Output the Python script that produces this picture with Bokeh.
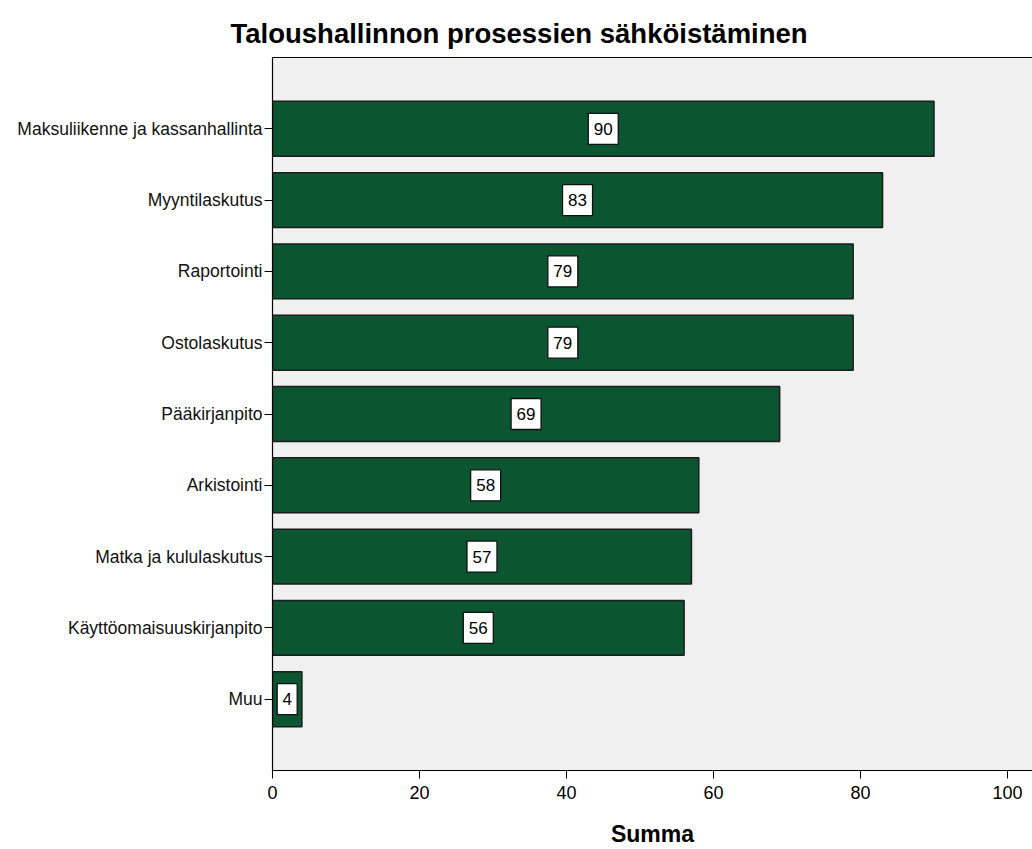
from bokeh.plotting import figure
from bokeh.models import ColumnDataSource, LinearAxis, Range1d, FixedTicker, Title
from bokeh.core.properties import value
from bokeh.embed import file_html
from bokeh.resources import INLINE

# Category names, top to bottom, and their sums
categories = [
    "Maksuliikenne ja kassanhallinta",
    "Myyntilaskutus",
    "Raportointi",
    "Ostolaskutus",
    "Pääkirjanpito",
    "Arkistointi",
    "Matka ja kululaskutus",
    "Käyttöomaisuuskirjanpito",
    "Muu",
]
values = [90, 83, 79, 79, 69, 58, 57, 56, 4]
x_ticks = [0, 20, 40, 60, 80, 100]

n = len(categories)
ypos = [n - i for i in range(n)]  # first category at the top
source = ColumnDataSource(dict(
    y=ypos,
    val=values,
    mid=[v / 2 for v in values],
    txt=[str(v) for v in values],
    boxw=[10 + 10 * len(str(v)) for v in values],
))

FONT = "Liberation Sans"

p = figure(
    width=1032, height=849,
    x_range=Range1d(0, 103.4), y_range=Range1d(0, n + 1),
    output_backend="svg", toolbar_location=None,
    min_border_left=272, min_border_right=0, min_border_top=57, min_border_bottom=79,
    background_fill_color="#f0f0f0", border_fill_color="white",
    outline_line_color=None,
)
p.title = Title(text="Taloushallinnon prosessien sähköistäminen", align="left",
                offset=-42, text_font=FONT, text_font_size="27.5px",
                text_font_style="bold", text_color="black", standoff=18)

p.hbar(y="y", right="val", left=0, height=0.77, source=source,
       fill_color="#0b5530", line_color="#1c1c1c", line_width=1.5)

# white value boxes centred on each bar
p.rect(x="mid", y="y", width="boxw", height=31, width_units="screen",
       height_units="screen", source=source, fill_color="white",
       line_color="#111111", line_width=1.3)
p.text(x="mid", y="y", text="txt", source=source,
       text_align="center", text_baseline="middle",
       text_font=value(FONT), text_font_size="17px", text_color="black")

p.grid.visible = False

# x axis
xa = p.xaxis[0]
xa.ticker = FixedTicker(ticks=x_ticks)
xa.minor_tick_line_color = None
xa.major_tick_out = 8
xa.major_tick_in = 0
xa.axis_line_color = "black"
xa.axis_line_width = 1.2
xa.major_tick_line_color = "black"
xa.major_label_text_font = FONT
xa.major_label_text_font_size = "18px"
xa.major_label_text_color = "black"
xa.major_label_standoff = 7
xa.axis_label = "Summa"
xa.axis_label_text_font = FONT
xa.axis_label_text_font_size = "23px"
xa.axis_label_text_font_style = "bold"
xa.axis_label_text_color = "black"
xa.axis_label_text_line_height = 0.8
xa.axis_label_standoff = 19

# y axis with category names
ya = p.yaxis[0]
ya.ticker = FixedTicker(ticks=ypos)
ya.major_label_overrides = {y: c for y, c in zip(ypos, categories)}
ya.minor_tick_line_color = None
ya.major_tick_out = 8
ya.major_tick_in = 0
ya.axis_line_color = "black"
ya.axis_line_width = 1.2
ya.major_label_text_font = FONT
ya.major_label_text_font_size = "17.5px"
ya.major_label_text_color = "#111111"
ya.major_label_standoff = 2

# top frame line
top = LinearAxis(major_tick_line_color=None, minor_tick_line_color=None,
                 major_label_text_font_size="0px", axis_line_color="black",
                 axis_line_width=1.2)
top.ticker = FixedTicker(ticks=[])
p.add_layout(top, "above")

open("out.html", "w").write(file_html(p, INLINE))
